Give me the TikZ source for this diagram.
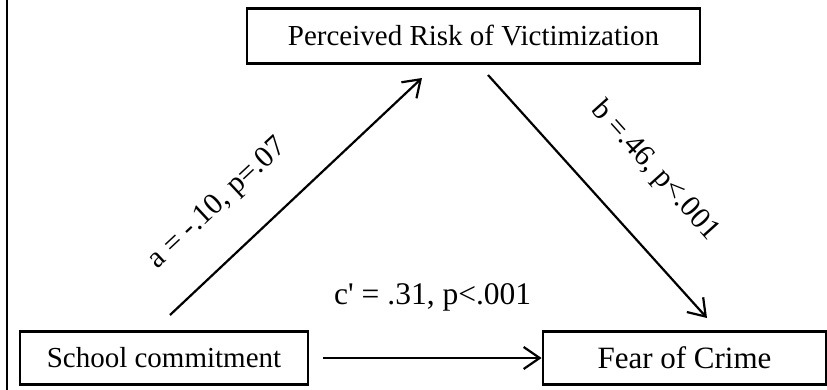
\documentclass[tikz,border=0pt]{standalone}
\usepackage{fontspec}
\setmainfont{Liberation Serif}
\usetikzlibrary{arrows.meta}
\begin{document}
\begin{tikzpicture}[x=1pt,y=-1pt,
  box/.style={draw, line width=2.8pt, inner sep=0pt, minimum height=55pt},
  arr/.style={line width=2.2pt, -{Straight Barb[length=16pt,width=22pt,line width=2.2pt]}},
  txt/.style={font=\fontsize{29}{33}\selectfont},
  lab/.style={font=\fontsize{30}{34}\selectfont, inner sep=0pt}]
\useasboundingbox (0,0) rectangle (827,390);
\draw[line width=2.6pt] (7,0) -- (7,390);
\node[box, txt, minimum width=453pt] (risk) at (473.5,36) {Perceived Risk of Victimization};
\node[box, txt, minimum width=288pt, minimum height=53pt] (school) at (164,358) {School commitment};
\node[box, font=\fontsize{31}{35}\selectfont, minimum width=283pt, minimum height=53pt] (fear) at (684.5,358) {Fear of Crime};
\coordinate (a1) at (170,315);
\coordinate (a2) at (422,78);
\coordinate (b1) at (488,75);
\coordinate (b2) at (707,318);
\draw[arr] (a1) -- (a2);
\draw[arr] (b1) -- (b2);
\draw[arr, shorten <=14pt] (school) -- (fear);
\node[lab, rotate=43] (la) at (218,204) {a = -.10, p=.07};
\node[lab, rotate=-48] (lb) at (655,171) {b =.46, p<.001};
\node[lab, font=\fontsize{31.5}{35}\selectfont, anchor=west] (lc) at (334,297) {c\textquotesingle{} = .31, p<.001};
\end{tikzpicture}
\end{document}
